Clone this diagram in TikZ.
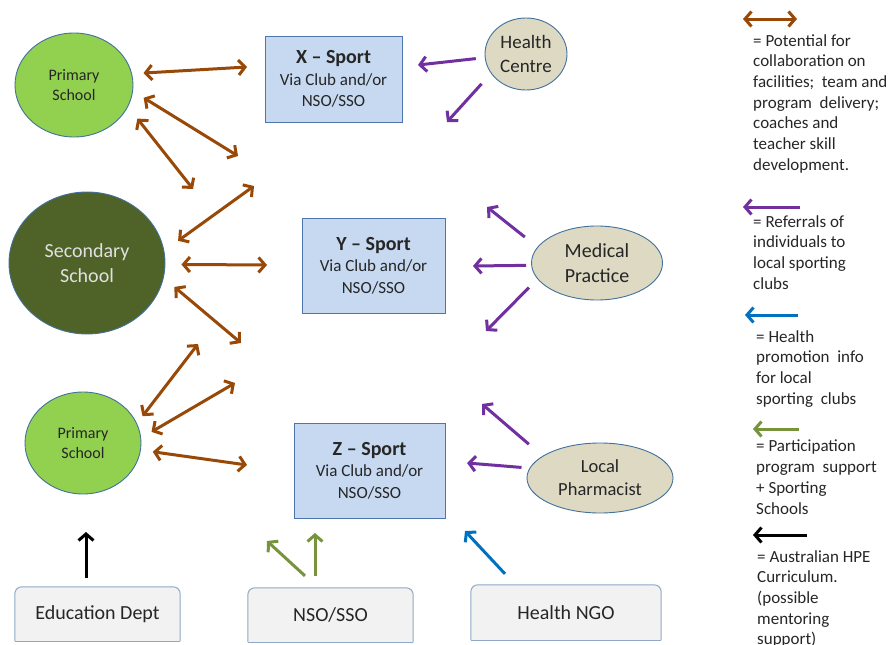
\documentclass[tikz,border=0pt]{standalone}
\usepackage{fontspec}
\setmainfont{Carlito}
\usetikzlibrary{shapes.geometric,arrows.meta,backgrounds}

\definecolor{collabbrown}{HTML}{984807}
\definecolor{refpurple}{HTML}{7030A0}
\definecolor{promoblue}{HTML}{0070C0}
\definecolor{particgreen}{HTML}{77933C}
\definecolor{primgreen}{HTML}{92D050}
\definecolor{secolive}{HTML}{4F6228}
\definecolor{clinictan}{HTML}{DDD9C3}
\definecolor{sportfill}{HTML}{C6D9F1}
\definecolor{sportedge}{HTML}{4F76AC}
\definecolor{shapeedge}{HTML}{41719C}
\definecolor{agencyfill}{HTML}{F2F2F2}
\definecolor{agencyedge}{HTML}{8FA8C8}
\definecolor{inkgray}{HTML}{262626}

\newcommand{\setfs}[2]{\fontsize{#1}{#2}\selectfont}

\tikzset{
  school/.style={ellipse, draw=shapeedge, line width=0.9pt, align=center, inner sep=0pt, text=inkgray},
  clinic/.style={ellipse, draw=shapeedge, line width=0.9pt, fill=clinictan, align=center, inner sep=0pt, text=inkgray},
  sport/.style={rectangle, draw=sportedge, line width=1pt, fill=sportfill, align=center, inner sep=0pt, text=inkgray, font=\setfs{17}{21.5}},
  agency/.style={inner sep=0pt, text=inkgray, font=\setfs{20}{24}},
  agencybox/.style={fill=agencyfill, draw=agencyedge, line width=1pt},
  link/.style={line width=3pt},
  collab/.style={link, draw=collabbrown, {Straight Barb[length=6.5pt,width=15pt]}-{Straight Barb[length=6.5pt,width=15pt]}},
  referral/.style={link, draw=refpurple, -{Straight Barb[length=6.5pt,width=15pt]}},
  promo/.style={link, draw=promoblue, -{Straight Barb[length=6.5pt,width=15pt]}},
  partic/.style={link, draw=particgreen, -{Straight Barb[length=6.5pt,width=15pt]}},
  curric/.style={link, draw=black, -{Straight Barb[length=6.5pt,width=15pt]}},
  legend/.style={anchor=north west, align=left, inner sep=0pt, text=inkgray, font=\setfs{17}{20.7}}
}

\begin{document}
\begin{tikzpicture}[x=1pt,y=-1pt]
  \useasboundingbox (0,0) rectangle (892,645);

  % schools
  \node[school, fill=primgreen, minimum width=118pt, minimum height=104pt, font=\setfs{16}{20}] (ps1) at (74,85) {Primary\\School};
  \node[school, fill=secolive, minimum width=156pt, minimum height=142pt, font=\setfs{20}{25}, text=white!88!black] (ss) at (87,263) {Secondary\\School};
  \node[school, fill=primgreen, minimum width=116pt, minimum height=102pt, font=\setfs{16}{20}] (ps2) at (83,443) {Primary\\School};

  % sport clubs
  \node[sport, minimum width=137pt, minimum height=86pt] (xs) at (333.5,79) {{\bfseries\setfs{20}{23}X – Sport}\\Via Club and/or\\NSO/SSO};
  \node[sport, minimum width=143pt, minimum height=95pt] (ys) at (373.5,265.5) {{\bfseries\setfs{20}{23}Y – Sport}\\Via Club and/or\\NSO/SSO};
  \node[sport, minimum width=151pt, minimum height=95pt] (zs) at (369.5,470.5) {{\bfseries\setfs{20}{23}Z – Sport}\\Via Club and/or\\NSO/SSO};

  % health services
  \node[clinic, minimum width=82pt, minimum height=72pt, font=\setfs{19}{24}] (hc) at (526,54) {Health\\Centre};
  \node[clinic, minimum width=131pt, minimum height=74pt, font=\setfs{20}{25}] (mp) at (597,263) {Medical\\Practice};
  \node[clinic, minimum width=146pt, minimum height=70pt, font=\setfs{18.5}{23}] (lp) at (600,478) {Local\\Pharmacist};

  % agencies along the bottom
  \node[agency, minimum width=165pt, minimum height=54pt] (ed) at (97.5,614) {Education Dept};
  \node[agency, minimum width=165pt, minimum height=54pt] (nso) at (330.5,615) {NSO/SSO};
  \node[agency, minimum width=190pt, minimum height=55pt] (ngo) at (566,612.5) {Health NGO};
  \begin{scope}[on background layer]
    \foreach \n in {ed,nso,ngo}{
      \filldraw[agencybox, rounded corners=7pt] (\n.south west) -- (\n.north west) -- (\n.north east) -- (\n.south east);
      \draw[agencybox] (\n.south west) -- (\n.south east);% square bottom edge
    }
  \end{scope}

  % loose arrow ends
  \coordinate (c1) at (247,67);
  \coordinate (c2) at (238,156);
  \coordinate (c3) at (193,189);
  \coordinate (c4) at (254,186);
  \coordinate (c5) at (267,265);
  \coordinate (c6) at (241,343);
  \coordinate (c7) at (198,344);
  \coordinate (c8) at (235,383);
  \coordinate (c9) at (247,465);
  \coordinate (r1) at (418,65);
  \coordinate (r2) at (447,122);
  \coordinate (r3) at (487,207);
  \coordinate (r4) at (473,266);
  \coordinate (r5) at (486,331);
  \coordinate (r6) at (482,404);
  \coordinate (r7) at (467,463);
  \coordinate (b1) at (86,532);
  \coordinate (b2) at (267,541);
  \coordinate (b3) at (315,533);
  \coordinate (b4) at (465,531);

  % collaboration
  \draw[collab, shorten <=11.5pt] (ps1.11) -- (c1);
  \draw[collab, shorten <=12.5pt] (ps1.-6) -- (c2);
  \draw[collab, shorten <=15pt] (ps1.-22) -- (c3);
  \draw[collab, shorten <=17pt] (ss.9) -- (c4);
  \draw[collab, shorten <=16pt] (ss.-1) -- (c5);
  \draw[collab, shorten <=14pt] (ss.-11) -- (c6);
  \draw[collab, shorten <=9pt] (ps2.20) -- (c7);
  \draw[collab, shorten <=12pt] (ps2.5) -- (c8);
  \draw[collab, shorten <=12pt] (ps2.-7) -- (c9);

  % referrals
  \draw[referral, shorten <=9pt] (hc.185) -- (r1);
  \draw[referral, shorten <=14pt] (hc.209) -- (r2);
  \draw[referral, shorten <=16pt] (mp.165) -- (r3);
  \draw[referral, shorten <=5pt] (mp.182) -- (r4);
  \draw[referral, shorten <=12pt] (mp.195) -- (r5);
  \draw[referral, shorten <=18pt] (lp.159) -- (r6);
  \draw[referral, shorten <=8pt] (lp.172) -- (r7);

  % support from the agencies
  \draw[curric, shorten <=9pt] ([xshift=-11.5pt]ed.north) -- (b1);
  \draw[partic, shorten <=17.7pt] ([xshift=-12.5pt]nso.north) -- (b2);
  \draw[partic, shorten <=12pt] ([xshift=-15.5pt]nso.north) -- (b3);
  \draw[promo, shorten <=15pt] ([xshift=-50.8pt]ngo.north) -- (b4);

  % key
  \coordinate (k1l) at (743,19);  \coordinate (k1r) at (797,19);
  \coordinate (k2l) at (743,207); \coordinate (k2r) at (800,207);
  \coordinate (k3l) at (745,315); \coordinate (k3r) at (798,315);
  \coordinate (k4l) at (753,429); \coordinate (k4r) at (799,429);
  \coordinate (k5l) at (753,535); \coordinate (k5r) at (807,535);
  \draw[collab] (k1l) -- (k1r);
  \draw[referral] (k2r) -- (k2l);
  \draw[promo] (k3r) -- (k3l);
  \draw[partic] (k4r) -- (k4l);
  \draw[curric] (k5r) -- (k5l);

  \node[legend] (t1) at (753,34) {= Potential for\\collaboration on\\facilities;\ \ team and\\program\ \ delivery;\\coaches and\\teacher skill\\development.};
  \node[legend] (t2) at (753,215) {= Referrals of\\individuals to\\local sporting\\clubs};
  \node[legend] (t3) at (756,330) {= Health\\promotion\ \ info\\for local\\sporting\ \ clubs};
  \node[legend] (t4) at (756,440) {= Participation\\program\ \ support\\+ Sporting\\Schools};
  \node[legend] (t5) at (757,550) {= Australian HPE\\Curriculum.\\(possible\\mentoring\\support)};
\end{tikzpicture}
\end{document}
